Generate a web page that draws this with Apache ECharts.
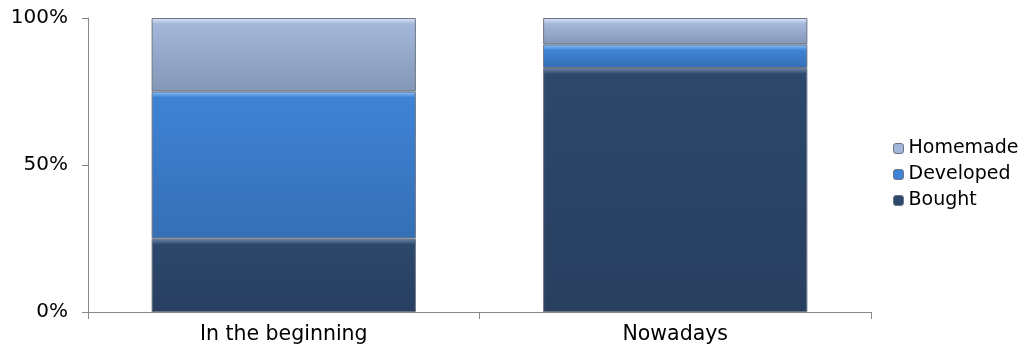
<!DOCTYPE html>
<html><head><meta charset="utf-8">
<script src="https://cdn.jsdelivr.net/npm/echarts@6/dist/echarts.min.js"></script>
<style>html,body{margin:0;padding:0;background:#fff}#c{width:1019px;height:352px}</style>
</head><body><div id="c"></div>
<script>
const categories = ["In the beginning", "Nowadays"];
const bought = [25, 83];
const developed = [50, 8];
const homemade = [25, 9];
const yTicks = [0, 50, 100];
const seriesNames = ['Bought', 'Developed', 'Homemade'];

const palette = {
  Bought: ['#6f89ab', '#2c486c', '#283f60'],
  Developed: ['#8ec2f7', '#3f83d6', '#356fb5'],
  Homemade: ['#dde8f8', '#a4b7da', '#8496b6']
};
const plotH = 294;
function grad(v, top, base, bottom) {
  const o = Math.min(0.4, 6 / (v / 100 * plotH));
  return new echarts.graphic.LinearGradient(0, 0, 0, 1, [
    {offset: 0, color: top}, {offset: o, color: base}, {offset: 1, color: bottom}
  ]);
}
const font = "DejaVu Sans, Verdana, sans-serif";
const chart = echarts.init(document.getElementById('c'));
function ser(name, data) {
  const cols = palette[name];
  return {
    name, type: 'bar', stack: 'a', barCategoryGap: '32.5%',
    data: data.map(v => ({value: v, itemStyle: {color: grad(v, cols[0], cols[1], cols[2])}})),
    itemStyle: {color: cols[1], borderColor: '#6d7684', borderWidth: 1},
    emphasis: {disabled: true}
  };
}
chart.setOption({
  animation: false,
  grid: {left: 88, top: 18, right: 148, bottom: 40},
  legend: {
    orient: 'vertical', left: 888, top: 134, itemWidth: 10, itemHeight: 10, itemGap: 7,
    data: ['Homemade', 'Developed', 'Bought'].map(n => ({
      name: n, itemStyle: {color: palette[n][1], borderColor: '#6d7684', borderWidth: 1}
    })),
    textStyle: {fontFamily: font, fontSize: 19, color: '#000'}
  },
  xAxis: {
    type: 'category', data: categories,
    axisLine: {lineStyle: {color: '#888'}},
    axisTick: {show: true, lineStyle: {color: '#888'}, length: 7},
    axisLabel: {fontFamily: font, fontSize: 20.5, color: '#000', margin: 12}
  },
  yAxis: {
    type: 'value', min: 0, max: 100, interval: 50,
    axisLine: {show: true, lineStyle: {color: '#888'}},
    axisTick: {show: true, lineStyle: {color: '#888'}, length: 6},
    splitLine: {show: false},
    axisLabel: {fontFamily: font, fontSize: 20, color: '#000', margin: 20,
      formatter: v => yTicks.includes(v) ? v + '%' : ''}
  },
  series: [
    ser('Bought', bought),
    ser('Developed', developed),
    ser('Homemade', homemade)
  ]
});
</script></body></html>
